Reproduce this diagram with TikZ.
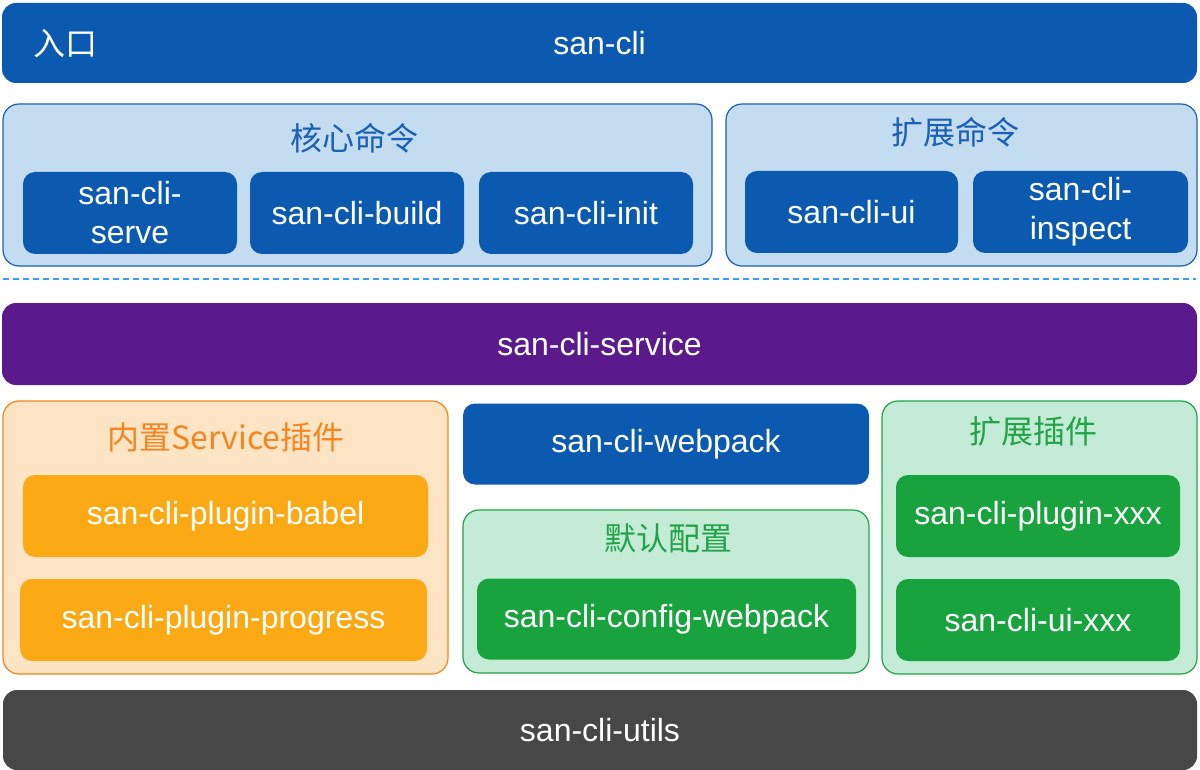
\documentclass[tikz,border=0pt]{standalone}
\usepackage{fontspec}
\setmainfont{Liberation Sans}
\newfontfamily\cjk{Noto Sans CJK SC}
\usepackage{xcolor}
\usepackage{tikz}
\definecolor{blue}{HTML}{0C5AB0}
\definecolor{bluelt}{HTML}{C3DCEF}
\definecolor{bluedk}{HTML}{1A60B6}
\definecolor{purple}{HTML}{5A1A8C}
\definecolor{orange}{HTML}{FBA914}
\definecolor{orangelt}{HTML}{FDE4C4}
\definecolor{orangedk}{HTML}{F5861F}
\definecolor{green}{HTML}{19A33E}
\definecolor{greenlt}{HTML}{C4EBD6}
\definecolor{greendk}{HTML}{22A34A}
\definecolor{gray}{HTML}{474747}
\definecolor{sep}{HTML}{3D9BF5}
\tikzset{
  bar/.style={rounded corners=14pt, minimum width=1195pt, minimum height=80pt, inner sep=0pt, text=white, font=\fontsize{32}{36}\selectfont},
  grp/.style={draw, line width=1.2pt, rounded corners=16pt, inner sep=0pt},
  cell/.style={rounded corners=12pt, minimum height=82pt, inner sep=0pt, text=white, align=center, font=\fontsize{32}{39}\selectfont},
  ttl/.style={font=\cjk\fontsize{32}{36}\selectfont},
  sepline/.style={draw=sep, line width=1.5pt, dash pattern=on 6pt off 4pt},
}
\begin{document}
\begin{tikzpicture}[x=1pt,y=-1pt]
  \useasboundingbox (0,0) rectangle (1200,770);
  % entry
  \node[bar, fill=blue] (entry) at (599.5,43) {san-cli};
  \node[ttl, text=white] (entrylab) at (66,44) {入口};
  % commands
  \node[grp, draw=bluedk, fill=bluelt, minimum width=709pt, minimum height=162pt] (core) at (357.5,185) {};
  \node[ttl, text=bluedk] (coretl) at (354,138) {核心命令};
  \foreach \nm/\x/\txt in {serve/130/{san-cli-\\serve}, build/357/san-cli-build, init/586/san-cli-init}
    \node[cell, fill=blue, minimum width=214pt] (\nm) at (\x,213) {\txt};
  \node[grp, draw=bluedk, fill=bluelt, minimum width=471pt, minimum height=162pt] (extcmd) at (961.5,185) {};
  \node[ttl, text=bluedk] (extcmdtl) at (955,132) {扩展命令};
  \node[cell, fill=blue, minimum width=213pt] (ui) at (851.5,212) {san-cli-ui};
  \node[cell, fill=blue, minimum width=215pt] (inspect) at (1080.5,212) {san-cli-\\inspect};
  \coordinate (sepL) at (3,279);
  \coordinate (sepR) at (1196,279);
  \draw[sepline] (sepL) -- (sepR);
  % service
  \node[bar, fill=purple, minimum height=82pt] (service) at (599.5,344) {san-cli-service};
  % built-in plugins
  \node[grp, draw=orangedk, fill=orangelt, minimum width=445pt, minimum height=273pt] (builtin) at (225.5,537.5) {};
  \node[ttl, text=orangedk] (builtintl) at (226,437) {内置Service插件};
  \node[cell, fill=orange, minimum width=405pt] (babel) at (225.5,516) {san-cli-plugin-babel};
  \node[cell, fill=orange, minimum width=407pt] (progress) at (223.5,620) {san-cli-plugin-progress};
  % webpack
  \node[cell, fill=blue, minimum width=406pt, minimum height=81pt] (webpack) at (666,444) {san-cli-webpack};
  \node[grp, draw=greendk, fill=greenlt, minimum width=406pt, minimum height=163pt] (defcfg) at (666,591.5) {};
  \node[ttl, text=greendk] (defcfgtl) at (668,538) {默认配置};
  \node[cell, fill=green, minimum width=379pt, minimum height=81pt] (cfgwp) at (666.5,619) {san-cli-config-webpack};
  % extension plugins
  \node[grp, draw=greendk, fill=greenlt, minimum width=315pt, minimum height=273pt] (extplug) at (1039.5,537.5) {};
  \node[ttl, text=greendk] (extplugtl) at (1033,431) {扩展插件};
  \node[cell, fill=green, minimum width=284pt] (plugxxx) at (1038,516) {san-cli-plugin-xxx};
  \node[cell, fill=green, minimum width=284pt] (uixxx) at (1038,620) {san-cli-ui-xxx};
  % utils
  \node[bar, fill=gray, minimum width=1194pt] (utils) at (600,730) {san-cli-utils};
\end{tikzpicture}
\end{document}
